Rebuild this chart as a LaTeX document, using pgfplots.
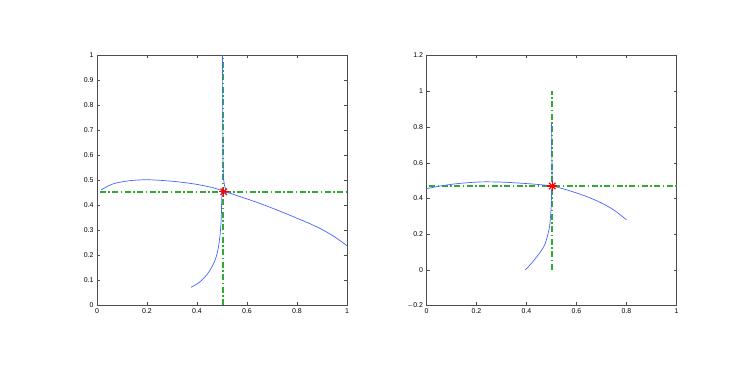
\documentclass[border=0pt]{standalone}
\usepackage{pgfplots}
\pgfplotsset{compat=1.18}
\usepackage{fontspec}
\setmainfont{Liberation Sans}
\definecolor{mblue}{RGB}{70,100,255}
\definecolor{mgreen}{RGB}{50,170,50}
\pgfplotsset{
  mstyle/.style={
    scale only axis, width=250bp, height=250bp,
    anchor=south west,
    tick align=inside, major tick length=3bp,
    tick label style={font=\fontsize{7}{8}\selectfont},
    /pgf/number format/assume math mode=true,
    axis line style={black!70, line width=0.4pt},
    tick style={black!70},
    xmin=0, xmax=1,
    xtick={0,0.2,...,1},
    xticklabels={0,0.2,0.4,0.6,0.8,1},
    clip=false,
  },
}
\begin{document}
\begin{tikzpicture}
\path (0bp,0bp) rectangle (747bp,374bp);

% left panel
\begin{axis}[mstyle, at={(97bp,68.5bp)},
  ymin=0, ymax=1, ytick={0,0.1,...,1},
  yticklabels={0,0.1,0.2,0.3,0.4,0.5,0.6,0.7,0.8,0.9,1}]
\addplot[draw=mgreen, line width=1.6pt, dash pattern=on 6bp off 2.5bp on 1.5bp off 2.5bp, mark=none] coordinates {(0.01,0.455) (1,0.455)};
\addplot[draw=mgreen, line width=1.6pt, dash pattern=on 6bp off 2.5bp on 1.5bp off 2.5bp, mark=none] coordinates {(0.505,0) (0.505,1)};
\addplot[draw=mblue, line width=0.7pt, mark=none, smooth] coordinates {
(0.016,0.462) (0.06,0.485) (0.12,0.498) (0.2,0.503) (0.3,0.497)
(0.39,0.486) (0.46,0.472) (0.505,0.458) (0.55,0.443) (0.65,0.409)
(0.75,0.370) (0.8,0.349) (0.85,0.328) (0.9,0.304) (0.95,0.275) (1.0,0.239)};
\addplot[draw=mblue, line width=0.7pt, mark=none] coordinates {
(0.502,1.0) (0.503,0.8) (0.504,0.6) (0.505,0.53) (0.507,0.5) (0.510,0.48) (0.515,0.465)};
\addplot[draw=mblue, line width=0.7pt, mark=none, smooth] coordinates {
(0.503,0.455) (0.499,0.43) (0.498,0.38) (0.496,0.33) (0.492,0.28) (0.486,0.235)
(0.477,0.195) (0.465,0.165) (0.448,0.135) (0.428,0.11) (0.403,0.088) (0.376,0.073)};
\addplot[red, line width=1.2pt, only marks, mark=+, mark size=5pt] coordinates {(0.507,0.455)};
\addplot[red, line width=1.2pt, only marks, mark=x, mark size=4.5pt] coordinates {(0.507,0.455)};
\end{axis}

% right panel
\begin{axis}[mstyle, at={(426.5bp,68.5bp)},
  ymin=-0.2, ymax=1.2, ytick={-0.2,0,...,1.2},
  yticklabels={$-$0.2,0,0.2,0.4,0.6,0.8,1,1.2}]
\addplot[draw=mgreen, line width=1.6pt, dash pattern=on 6bp off 2.5bp on 1.5bp off 2.5bp, mark=none] coordinates {(0.01,0.469) (1,0.469)};
\addplot[draw=mgreen, line width=1.6pt, dash pattern=on 6bp off 2.5bp on 1.5bp off 2.5bp, mark=none] coordinates {(0.503,0) (0.503,1)};
\addplot[draw=mblue, line width=0.7pt, mark=none, smooth] coordinates {
(0,0.454) (0.05,0.468) (0.12,0.482) (0.215,0.492) (0.3,0.491)
(0.388,0.484) (0.46,0.476) (0.502,0.469) (0.55,0.452) (0.6,0.430)
(0.65,0.405) (0.7,0.374) (0.75,0.334) (0.8,0.280)};
\addplot[draw=mblue, line width=0.7pt, mark=none] coordinates {
(0.500,0.818) (0.501,0.7) (0.502,0.55) (0.503,0.49) (0.506,0.47)};
\addplot[draw=mblue, line width=0.7pt, mark=none, smooth] coordinates {
(0.502,0.469) (0.500,0.41) (0.498,0.34) (0.492,0.24) (0.475,0.147)
(0.458,0.105) (0.441,0.073) (0.420,0.036) (0.395,0.0)};
\addplot[red, line width=1.2pt, only marks, mark=+, mark size=5pt] coordinates {(0.503,0.469)};
\addplot[red, line width=1.2pt, only marks, mark=x, mark size=4.5pt] coordinates {(0.503,0.469)};
\end{axis}
\end{tikzpicture}
\end{document}
